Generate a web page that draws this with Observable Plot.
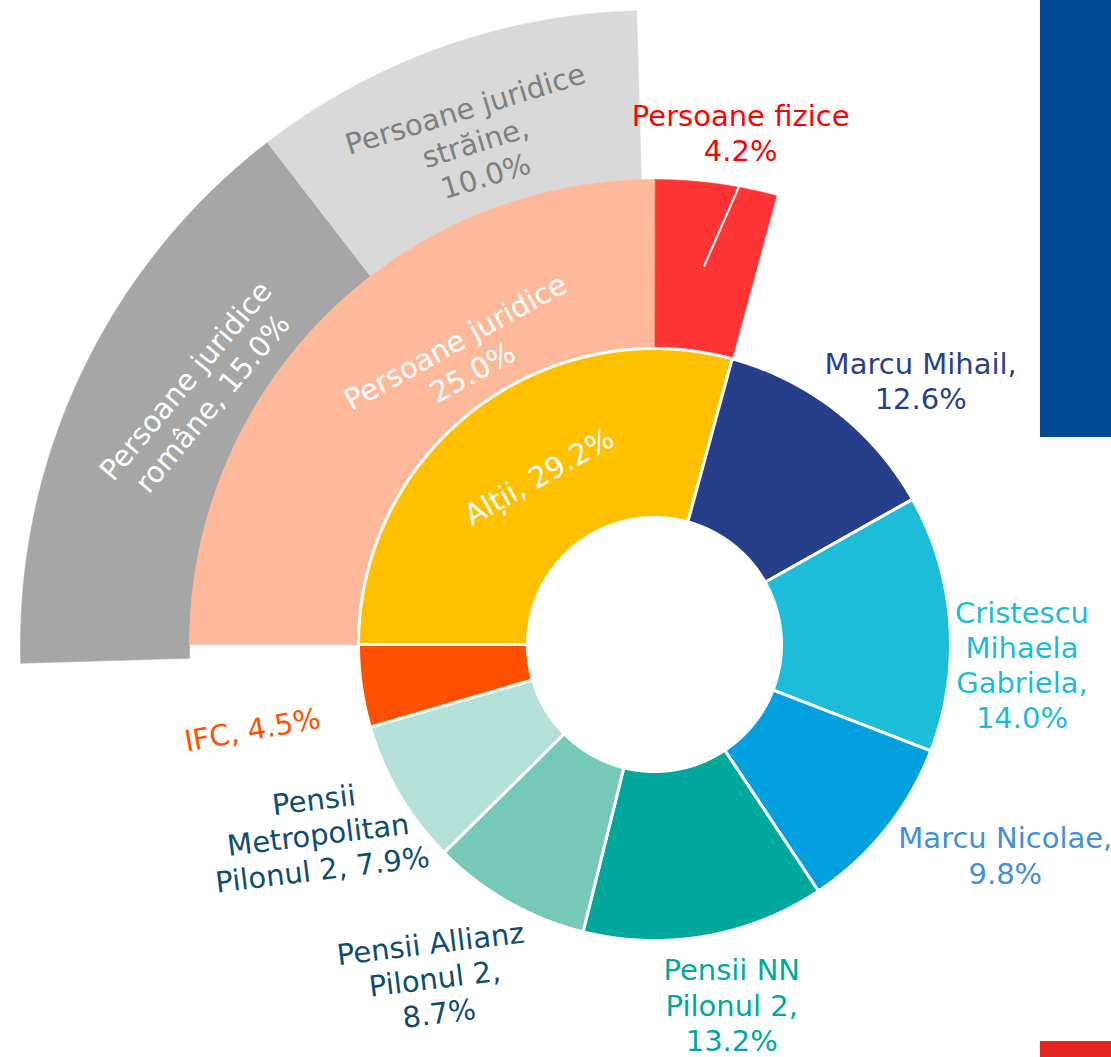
<!DOCTYPE html>
<html>
<head>
<meta charset="utf-8">
<script src="https://cdn.jsdelivr.net/npm/d3@7"></script>
<script src="https://cdn.jsdelivr.net/npm/@observablehq/plot@0.6"></script>
<style>
  html, body { margin: 0; padding: 0; background: #fff; }
  #wrap { position: relative; width: 1111px; height: 1057px; overflow: hidden; }
  .deco { position: absolute; }
</style>
</head>
<body>
<div id="wrap"></div>
<script>
// ---------------- DATA ----------------
// inner ring: shareholders
const innerNames = ["Alții", "Marcu Mihail", "Cristescu\nMihaela\nGabriela", "Marcu Nicolae",
  "Pensii NN\nPilonul 2", "Pensii Allianz\nPilonul 2", "Pensii\nMetropolitan\nPilonul 2", "IFC"];
const innerValues = [29.2, 12.6, 14.0, 9.8, 13.2, 8.7, 7.9, 4.5];
const innerSeparators = [", ", ",\n", ",\n", ",\n", ",\n", ",\n", ", ", ", "];

// middle ring: breakdown of "Alții"
const middleNames = ["Persoane juridice", "Persoane fizice"];
const middleValues = [25.0, 4.2];
const middleSeparators = ["\n", "\n"];

// outer ring: breakdown of "Persoane juridice"
const outerNames = ["Persoane juridice\nromâne", "Persoane juridice\nstrăine"];
const outerValues = [15.0, 10.0];
const outerSeparators = [", ", ",\n"];

// ---------------- STYLE / LAYOUT ----------------
const innerColors = ["#ffc000", "#273f8b", "#1cbdd9", "#02a0df", "#00a89c", "#76c9b7", "#b3e0d7", "#ff5000"];
const innerLabelColors = ["#ffffff", "#283f8b", "#1cbcd9", "#3f8fdc", "#00a99d", "#0f4d6d", "#0f4d6d", "#ff5000"];
const middleColors = ["#fdb99a", "#ff3535"];
const middleLabelColors = ["#ffffff", "#ff0000"];
const outerColors = ["#a6a6a6", "#d9d9d9"];
const outerLabelColors = ["#ffffff", "#7f7f7f"];

// label placement: [angle offset from slice middle (deg), radius (px), text rotation (deg)]
const innerLabelPlace = [[2.9, 205, -29.5], [7.3, 375, 0], [7.2, 368, 0], [-7.8, 409, 0],
  [-2.3, 368, 0], [3.8, 399, -7], [1.1, 386, -7], [-3.7, 411, -10]];
const middleLabelPlace = [[11.4, 346, -29], [1.9, 519, 0]];
const outerLabelPlace = [[3.7, 522, -50], [0, 534, -17]];

const W = 1111, H = 1057;
const cx = 654, cy = 644;
const innerR = [127, 296], middleR = [296, 465], outerR = [465, 634];
const innerStart = -90, middleStart = -90, outerStart = -91.7;
const fontSize = 29;

// ---------------- GEOMETRY ----------------
const total = d3.sum(innerValues);
const degPerUnit = 360 / total;

function polar(aDeg, r) {
  const a = aDeg * Math.PI / 180;
  return [r * Math.sin(a), -r * Math.cos(a)];
}

function makeSlices(ring, names, values, seps, start, radii, colors, labelColors, place) {
  let a = start;
  return values.map((v, i) => {
    const a0 = a, a1 = a + v * degPerUnit;
    a = a1;
    return {ring, i, name: names[i], value: v, a0, a1, mid: (a0 + a1) / 2,
      r0: radii[0], r1: radii[1], color: colors[i], labelColor: labelColors[i],
      label: names[i] + seps[i] + v.toFixed(1) + "%", place: place[i]};
  });
}

function polyPoints(slices) {
  const pts = [];
  for (const s of slices) {
    const id = s.ring + "-" + s.i;
    const n = Math.max(2, Math.ceil((s.a1 - s.a0) / 0.25));
    const ringPts = [];
    for (let k = 0; k <= n; k++) ringPts.push(polar(s.a0 + (s.a1 - s.a0) * k / n, s.r1));
    for (let k = n; k >= 0; k--) ringPts.push(polar(s.a0 + (s.a1 - s.a0) * k / n, s.r0));
    ringPts.push(ringPts[0]);
    for (const [x, y] of ringPts) pts.push({id, x, y, color: s.color});
  }
  return pts;
}

function labelRows(slices) {
  return slices.map(s => {
    const [dA, r, rot] = s.place;
    const [x, y] = polar(s.mid + dA, r);
    return {x, y, text: s.label, color: s.labelColor, rotate: rot};
  });
}

const innerSlices = makeSlices("inner", innerNames, innerValues, innerSeparators, innerStart, innerR, innerColors, innerLabelColors, innerLabelPlace);
const middleSlices = makeSlices("middle", middleNames, middleValues, middleSeparators, middleStart, middleR, middleColors, middleLabelColors, middleLabelPlace);
const outerSlices = makeSlices("outer", outerNames, outerValues, outerSeparators, outerStart, outerR, outerColors, outerLabelColors, outerLabelPlace);

// leader line of the "Persoane fizice" label
const fiz = middleSlices[1];
const l0 = polar(fiz.mid - 0.2, 381), l1 = polar(fiz.mid + 2.8, 466);
const leader = [{x1: l0[0], y1: l0[1], x2: l1[0], y2: l1[1]}];

const labels = [...labelRows(outerSlices), ...labelRows(middleSlices), ...labelRows(innerSlices)];

const chart = Plot.plot({
  width: W,
  height: H,
  margin: 0,
  x: {domain: [-cx, W - cx], range: [0, W], axis: null},
  y: {domain: [-cy, H - cy], range: [0, H], axis: null},
  color: {type: "identity"},
  style: {fontFamily: "'DejaVu Sans', Verdana, sans-serif", background: "#ffffff"},
  marks: [
    Plot.line(polyPoints(outerSlices), {x: "x", y: "y", z: "id", fill: "color", stroke: "color", strokeWidth: 0.5}),
    Plot.line(polyPoints(middleSlices), {x: "x", y: "y", z: "id", fill: "color", stroke: "color", strokeWidth: 0.5}),
    Plot.line(polyPoints(innerSlices), {x: "x", y: "y", z: "id", fill: "color", stroke: "white", strokeWidth: 3, strokeLinejoin: "miter"}),
    Plot.link(leader, {x1: "x1", y1: "y1", x2: "x2", y2: "y2", stroke: "white", strokeWidth: 2}),
    Plot.text(labels, {x: "x", y: "y", text: "text", fill: "color", rotate: "rotate",
      fontSize: fontSize, lineHeight: 1.21, textAnchor: "middle", lineAnchor: "middle",
      fontFamily: "'DejaVu Sans', Verdana, sans-serif"})
  ]
});

const wrap = document.getElementById("wrap");
wrap.appendChild(chart);

// decorative page bars at the right edge
const bars = [
  {left: 1040, top: 0, width: 71, height: 437, color: "#004a94"},
  {left: 1040, top: 1041, width: 71, height: 16, color: "#e52421"}
];
for (const b of bars) {
  const d = document.createElement("div");
  d.className = "deco";
  Object.assign(d.style, {left: b.left + "px", top: b.top + "px", width: b.width + "px", height: b.height + "px", background: b.color});
  wrap.appendChild(d);
}
</script>
</body>
</html>
